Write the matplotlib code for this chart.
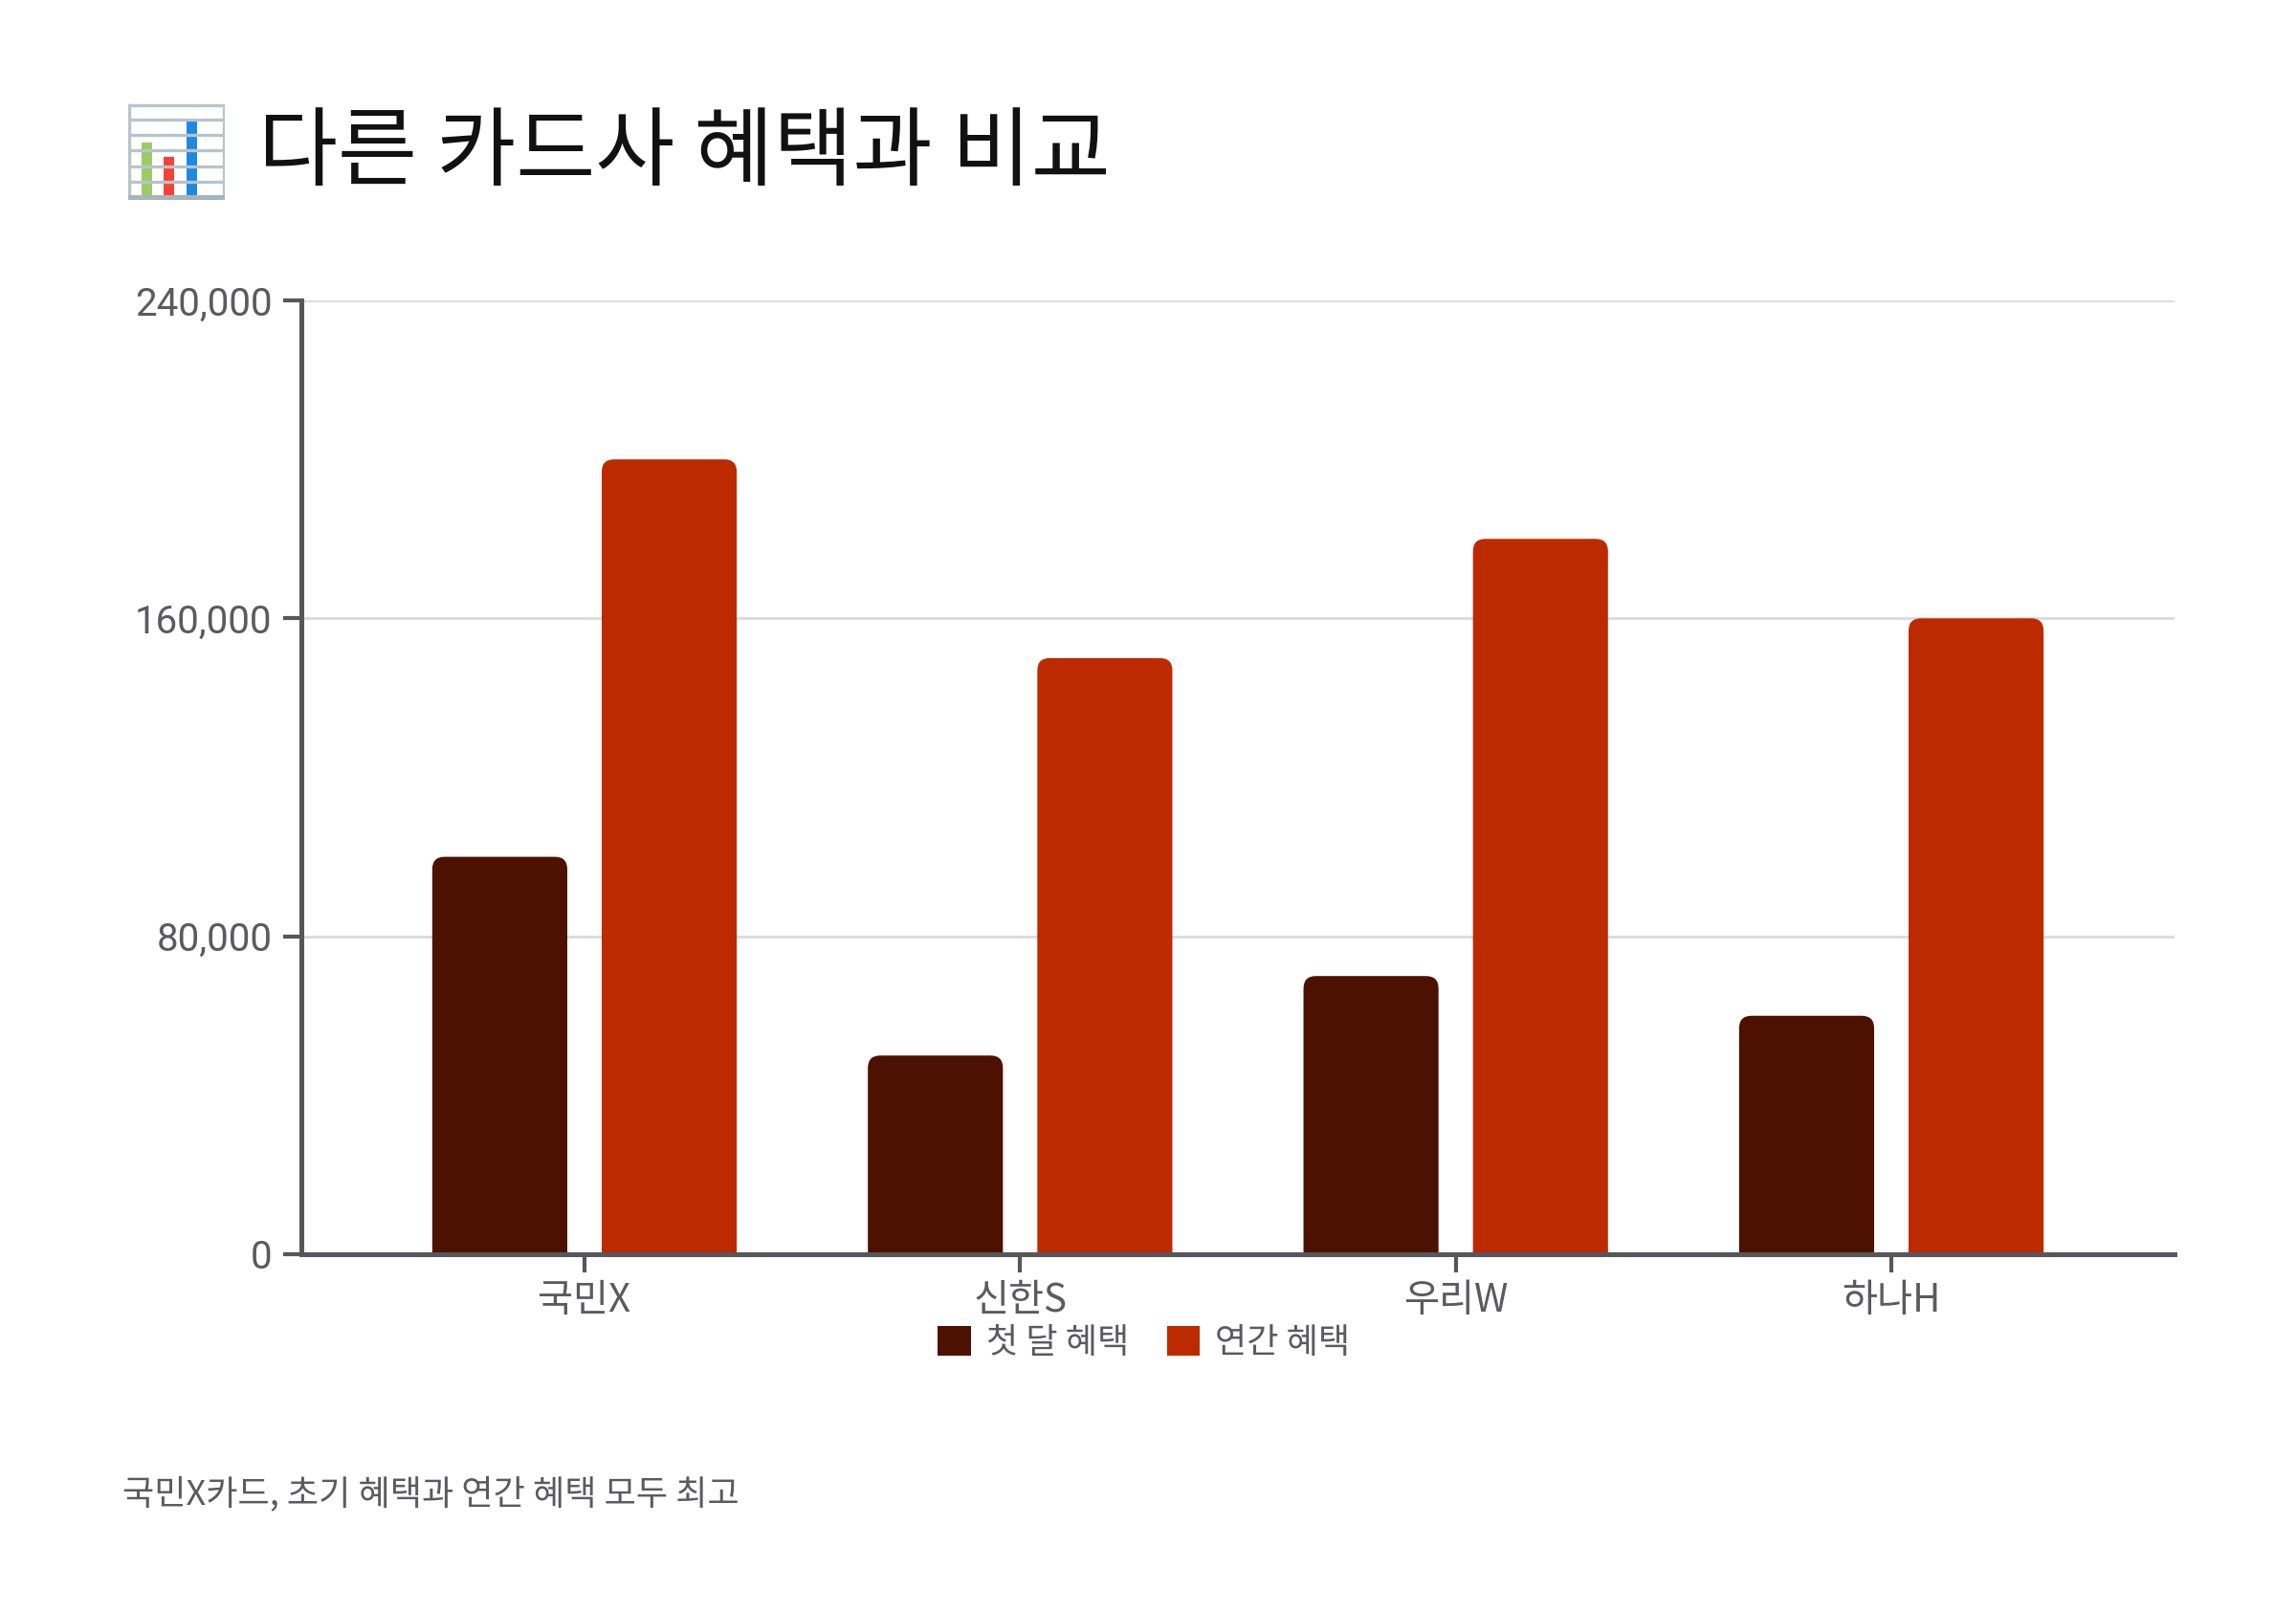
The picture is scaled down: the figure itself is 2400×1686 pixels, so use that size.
import matplotlib
matplotlib.use("Agg")
import matplotlib.pyplot as plt
from matplotlib.patches import FancyBboxPatch, Patch, Rectangle
from matplotlib.ticker import FuncFormatter

categories = ["국민X", "신한S", "우리W", "하나H"]
first_month = [100000, 50000, 70000, 60000]
annual = [200000, 150000, 180000, 160000]
series_names = ["첫 달 혜택", "연간 혜택"]
yticks = [0, 80000, 160000, 240000]
title = "다른 카드사 혜택과 비교"
note = "국민X카드, 초기 혜택과 연간 혜택 모두 최고"

C_DARK = "#4d1100"
C_RED = "#bd2a00"
AX_C = "#56565b"
TXT_C = "#5a5a5f"
FONTS = ["Roboto", "Noto Sans CJK KR", "DejaVu Sans"]
KFONTS = ["Noto Sans CJK KR", "DejaVu Sans"]

plt.rcParams['font.family'] = FONTS

W, H, DPI = 2400, 1686, 200
fig = plt.figure(figsize=(W / DPI, H / DPI), dpi=DPI, facecolor="white")

x0, x1 = 315, 2273
ytop, ybot = 314, 1311
ax = fig.add_axes([x0 / W, 1 - ybot / H, (x1 - x0) / W, (ybot - ytop) / H])
ax.set_xlim(-0.65, len(categories) - 1 + 0.65)
ax.set_ylim(0, 240000)

ax.set_yticks(yticks)
ax.yaxis.set_major_formatter(FuncFormatter(lambda v, p: f"{int(v):,}"))
ax.set_xticks(range(len(categories)))
ax.set_xticklabels(categories, family=KFONTS)
ax.grid(axis="y", color="#dcdcdc", linewidth=1.1, zorder=0)
ax.set_axisbelow(True)
for s in ["top", "right"]:
    ax.spines[s].set_visible(False)
for s in ["left", "bottom"]:
    ax.spines[s].set_color(AX_C)
    ax.spines[s].set_linewidth(1.8)
    ax.spines[s].set_zorder(5)
ax.tick_params(axis="both", colors=AX_C, width=1.5, length=7, labelsize=14.5,
               labelcolor=TXT_C)
ax.tick_params(axis="y", pad=4)
ax.tick_params(axis="x", pad=3)

bw = 0.31
off = 0.1945
xs = list(range(len(categories)))
b1 = ax.bar([x - off for x in xs], first_month, width=bw, color=C_DARK, zorder=2)
b2 = ax.bar([x + off for x in xs], annual, width=bw, color=C_RED, zorder=2)

# rounded top corners
p0 = ax.transData.transform((0, 0))
p1 = ax.transData.transform((1, 1))
px_per_x = p1[0] - p0[0]
px_per_y = p1[1] - p0[1]
r_px = 13
rx = r_px / px_per_x
ry = r_px / px_per_y
for bars in (b1, b2):
    for rect in bars:
        x, w, h = rect.get_x(), rect.get_width(), rect.get_height()
        fb = FancyBboxPatch((x, -ry * 2), w, h + ry * 2,
                            boxstyle=f"round,pad=0,rounding_size={rx}",
                            mutation_aspect=ry / rx,
                            facecolor=rect.get_facecolor(), edgecolor="none",
                            zorder=2, clip_on=True)
        ax.add_patch(fb)
        rect.set_visible(False)

# legend
handles = [Patch(facecolor=C_DARK, edgecolor="none"), Patch(facecolor=C_RED, edgecolor="none")]
leg = fig.legend(handles, series_names, loc="center", bbox_to_anchor=(1196 / W, 1 - 1404 / H),
                 ncol=2, frameon=False, handlelength=0.95, handleheight=0.95,
                 handletextpad=0.45, columnspacing=1.1, prop={"family": KFONTS, "size": 13})
for t in leg.get_texts():
    t.set_color(TXT_C)

# title
fig.text(270 / W, 1 - 162 / H, title, family=KFONTS, fontsize=32.5, color="#111111",
         va="center", ha="left")

# icon (bar chart symbol)
iax = fig.add_axes([134 / W, 1 - 209 / H, 101 / W, 101 / H])
iax.set_xlim(0, 10)
iax.set_ylim(0, 10)
iax.axis("off")
iax.add_patch(Rectangle((0, 0), 10, 10, facecolor="white", edgecolor="none"))
for gy in [0.3, 1.9, 3.5, 5.1, 6.7, 8.3, 9.8]:
    iax.plot([0.1, 9.9], [gy, gy], color="#b8c4cc", lw=1.2)
iax.plot([0.1, 0.1], [0.3, 9.8], color="#b8c4cc", lw=1.2)
iax.plot([9.9, 9.9], [0.3, 9.8], color="#b8c4cc", lw=1.2)
iax.plot([0.1, 9.9], [0.15, 0.15], color="#a8b4bc", lw=2.2)
iax.bar([1.95, 4.25, 6.55], [5.6, 4.1, 7.9], bottom=0.35, width=1.1,
        color=["#9ccc65", "#f44336", "#1e88e5"])

# footnote
fig.text(128 / W, 1 - 1562 / H, note, family=KFONTS, fontsize=13, color=TXT_C,
         va="center", ha="left")

fig.savefig("out.png", dpi=DPI, facecolor="white")
